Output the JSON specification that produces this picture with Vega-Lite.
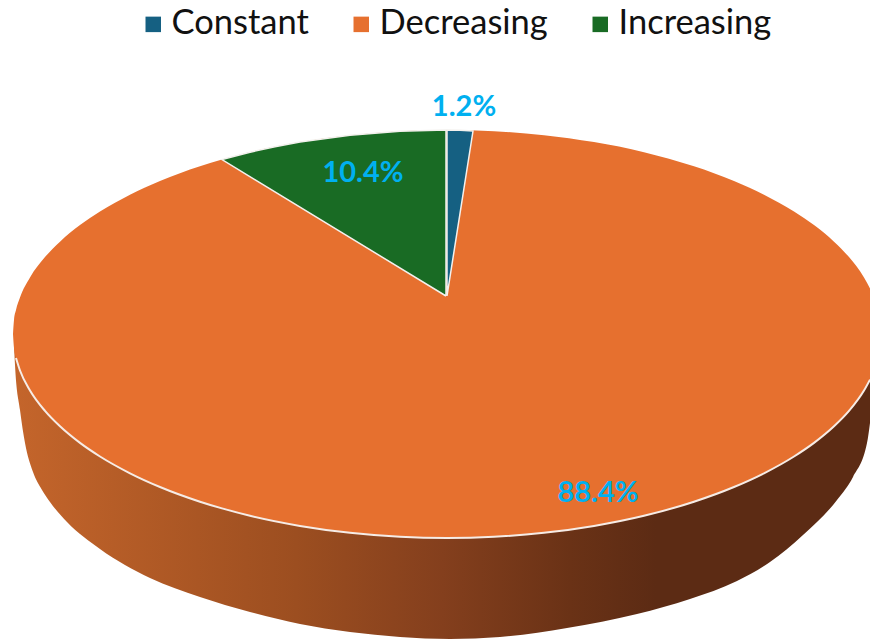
{
  "$schema": "https://vega.github.io/schema/vega-lite/v6.json",
  "width": 870,
  "height": 639,
  "padding": 0,
  "autosize": {"type": "none"},
  "background": "white",
  "config": {"view": {"stroke": null}},
  "datasets": {
    "wall": [
      {"x": 14, "top": 340, "bottom": 345},
      {"x": 15, "top": 340, "bottom": 365},
      {"x": 20, "top": 340, "bottom": 410},
      {"x": 25, "top": 340, "bottom": 443},
      {"x": 33, "top": 340, "bottom": 472},
      {"x": 42, "top": 340, "bottom": 490},
      {"x": 50, "top": 340, "bottom": 502},
      {"x": 67, "top": 340, "bottom": 522},
      {"x": 100, "top": 340, "bottom": 549},
      {"x": 150, "top": 340, "bottom": 578},
      {"x": 200, "top": 340, "bottom": 597},
      {"x": 250, "top": 340, "bottom": 612},
      {"x": 300, "top": 340, "bottom": 624},
      {"x": 350, "top": 340, "bottom": 632},
      {"x": 400, "top": 340, "bottom": 637},
      {"x": 450, "top": 340, "bottom": 639},
      {"x": 500, "top": 340, "bottom": 637},
      {"x": 567, "top": 340, "bottom": 628},
      {"x": 637, "top": 340, "bottom": 614},
      {"x": 690, "top": 340, "bottom": 599},
      {"x": 737, "top": 340, "bottom": 581},
      {"x": 770, "top": 340, "bottom": 562},
      {"x": 803, "top": 340, "bottom": 535},
      {"x": 837, "top": 340, "bottom": 500},
      {"x": 853, "top": 340, "bottom": 477},
      {"x": 867, "top": 340, "bottom": 443},
      {"x": 870, "top": 340, "bottom": 423}
    ],
    "disc": [
      {"trend": "Decreasing", "x": 13, "upper": 334, "lower": 334},
      {"trend": "Decreasing", "x": 14, "upper": 320, "lower": 348},
      {"trend": "Decreasing", "x": 16, "upper": 310, "lower": 358},
      {"trend": "Decreasing", "x": 20, "upper": 297.5, "lower": 370.5},
      {"trend": "Decreasing", "x": 30, "upper": 277.5, "lower": 390.5},
      {"trend": "Decreasing", "x": 45, "upper": 257.1, "lower": 410.9},
      {"trend": "Decreasing", "x": 60, "upper": 241.7, "lower": 426.3},
      {"trend": "Decreasing", "x": 80, "upper": 225.1, "lower": 442.9},
      {"trend": "Decreasing", "x": 100, "upper": 211.5, "lower": 456.5},
      {"trend": "Decreasing", "x": 130, "upper": 194.7, "lower": 473.3},
      {"trend": "Decreasing", "x": 160, "upper": 181, "lower": 487},
      {"trend": "Decreasing", "x": 200, "upper": 166.3, "lower": 501.7},
      {"trend": "Decreasing", "x": 222, "upper": 159.6, "lower": 508.4},
      {"trend": "Decreasing", "x": 250, "upper": 152.2, "lower": 515.8},
      {"trend": "Decreasing", "x": 300, "upper": 142.1, "lower": 525.9},
      {"trend": "Decreasing", "x": 350, "upper": 135.2, "lower": 532.8},
      {"trend": "Decreasing", "x": 400, "upper": 131.2, "lower": 536.8},
      {"trend": "Decreasing", "x": 447, "upper": 130, "lower": 538},
      {"trend": "Decreasing", "x": 494, "upper": 131.2, "lower": 536.8},
      {"trend": "Decreasing", "x": 544, "upper": 135.2, "lower": 532.8},
      {"trend": "Decreasing", "x": 594, "upper": 142.1, "lower": 525.9},
      {"trend": "Decreasing", "x": 644, "upper": 152.2, "lower": 515.8},
      {"trend": "Decreasing", "x": 694, "upper": 166.3, "lower": 501.7},
      {"trend": "Decreasing", "x": 734, "upper": 181, "lower": 487},
      {"trend": "Decreasing", "x": 764, "upper": 194.7, "lower": 473.3},
      {"trend": "Decreasing", "x": 794, "upper": 211.5, "lower": 456.5},
      {"trend": "Decreasing", "x": 814, "upper": 225.1, "lower": 442.9},
      {"trend": "Decreasing", "x": 834, "upper": 241.7, "lower": 426.3},
      {"trend": "Decreasing", "x": 849, "upper": 257.1, "lower": 410.9},
      {"trend": "Decreasing", "x": 864, "upper": 277.5, "lower": 390.5},
      {"trend": "Decreasing", "x": 870, "upper": 288.4, "lower": 379.6}
    ],
    "wedges": [
      {"trend": "Increasing", "step": 1, "x": 446, "y": 296},
      {"trend": "Increasing", "step": 2, "x": 222, "y": 159.6},
      {"trend": "Increasing", "step": 3, "x": 250, "y": 152.2},
      {"trend": "Increasing", "step": 4, "x": 275, "y": 146.8},
      {"trend": "Increasing", "step": 5, "x": 300, "y": 142.1},
      {"trend": "Increasing", "step": 6, "x": 350, "y": 135.2},
      {"trend": "Increasing", "step": 7, "x": 400, "y": 131.2},
      {"trend": "Increasing", "step": 8, "x": 446, "y": 130},
      {"trend": "Increasing", "step": 9, "x": 446, "y": 296},
      {"trend": "Constant", "step": 1, "x": 447, "y": 296},
      {"trend": "Constant", "step": 2, "x": 447, "y": 130},
      {"trend": "Constant", "step": 3, "x": 460, "y": 130.2},
      {"trend": "Constant", "step": 4, "x": 473, "y": 131},
      {"trend": "Constant", "step": 5, "x": 447, "y": 296}
    ],
    "labels": [
      {"trend": "Constant", "share": 0.012, "x": 464, "y": 107},
      {"trend": "Decreasing", "share": 0.884, "x": 598, "y": 493},
      {"trend": "Increasing", "share": 0.104, "x": 363, "y": 173}
    ]
  },
  "encoding": {
    "x": {"type": "quantitative", "scale": {"domain": [0, 870], "nice": false, "zero": false}, "axis": null},
    "y": {"type": "quantitative", "scale": {"domain": [639, 0], "nice": false, "zero": false}, "axis": null}
  },
  "layer": [
    {
      "data": {"name": "wall"},
      "mark": {
        "type": "area",
        "interpolate": "monotone",
        "fill": {
          "gradient": "linear",
          "x1": 0, "x2": 1, "y1": 0, "y2": 0,
          "stops": [
            {"offset": 0, "color": "#c4652b"},
            {"offset": 0.33, "color": "#9c4e20"},
            {"offset": 0.5, "color": "#843f1d"},
            {"offset": 0.65, "color": "#6a3216"},
            {"offset": 0.75, "color": "#5c2b14"},
            {"offset": 1, "color": "#5c2b14"}
          ]
        }
      },
      "encoding": {
        "x": {"field": "x"},
        "y": {"field": "top"},
        "y2": {"field": "bottom"}
      }
    },
    {
      "data": {"name": "disc"},
      "mark": {"type": "area", "interpolate": "monotone"},
      "encoding": {
        "x": {"field": "x"},
        "y": {"field": "upper"},
        "y2": {"field": "lower"},
        "fill": {
          "field": "trend",
          "type": "nominal",
          "scale": {
            "domain": ["Constant", "Decreasing", "Increasing"],
            "range": ["#156082", "#e6702f", "#196b24"]
          },
          "legend": {
            "title": null,
            "orient": "none",
            "direction": "horizontal",
            "legendX": 136,
            "legendY": 7,
            "symbolType": "square",
            "symbolSize": 240,
            "symbolStrokeWidth": 0,
            "labelFont": "Lato",
            "labelFontSize": 34.5,
            "labelColor": "#111111",
            "labelLimit": 300,
            "labelOffset": 1,
            "columnPadding": 35,
            "symbolOffset": 0
          }
        }
      }
    },
    {
      "data": {"name": "disc"},
      "transform": [{"filter": "datum.x >= 16"}],
      "mark": {"type": "line", "interpolate": "monotone", "stroke": "#f6ece6", "strokeWidth": 2},
      "encoding": {
        "x": {"field": "x"},
        "y": {"field": "lower"}
      }
    },
    {
      "data": {"name": "wedges"},
      "mark": {"type": "line", "stroke": "#f3f1ee", "strokeWidth": 1.5},
      "encoding": {
        "x": {"field": "x"},
        "y": {"field": "y"},
        "order": {"field": "step", "type": "quantitative"},
        "detail": {"field": "trend"},
        "fill": {"field": "trend", "type": "nominal"}
      }
    },
    {
      "data": {"name": "labels"},
      "mark": {"type": "text", "font": "Lato", "fontWeight": "bold", "fontSize": 29, "color": "#00b0f0", "align": "center", "baseline": "middle"},
      "encoding": {
        "x": {"field": "x"},
        "y": {"field": "y"},
        "text": {"field": "share", "type": "quantitative", "format": ".1%"}
      }
    }
  ]
}
